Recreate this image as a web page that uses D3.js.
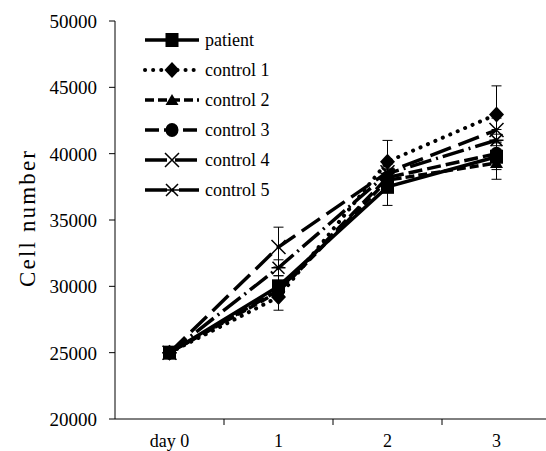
<!DOCTYPE html>
<html>
<head>
<meta charset="utf-8">
<script src="https://cdn.jsdelivr.net/npm/d3@7"></script>
<style>
  body { margin: 0; background: #fff; }
</style>
</head>
<body>
<div id="chart"></div>
<script>
// chart data
const days = ["day 0", "1", "2", "3"];
const seriesNames = ["patient", "control 1", "control 2", "control 3", "control 4", "control 5"];
const patient  = [25000, 30000, 37500, 39770];
const control1 = [25000, 29200, 39400, 42960];
const control2 = [25000, 29600, 38000, 39300];
const control3 = [25000, 29700, 38200, 40000];
const control4 = [25000, 32960, 38600, 41780];
const control5 = [25000, 31400, 38500, 41020];
const errPatient  = [0, 800, 1400, 1700];
const errControl1 = [0, 1000, 1600, 2150];
const errControl2 = [0, 500, 500, 500];
const errControl3 = [0, 600, 600, 600];
const errControl4 = [0, 1500, 800, 900];
const errControl5 = [0, 600, 700, 800];
const yTicks = [20000, 25000, 30000, 35000, 40000, 45000, 50000];

const values = [patient, control1, control2, control3, control4, control5];
const errors = [errPatient, errControl1, errControl2, errControl3, errControl4, errControl5];
const dashes = [null, "0.1,8", "9,4", "14,5", "22,8", "22,5,2,5"];
const shapes = ["square", "diamond", "triangle", "circle", "x", "asterisk"];

const W = 546, H = 451;
const svg = d3.select("#chart").append("svg")
    .attr("width", W)
    .attr("height", H)
    .attr("font-family", "'Liberation Serif', 'Times New Roman', 'DejaVu Serif', serif");

const x = d3.scaleBand().domain(days).range([115, 551]);
const y = d3.scaleLinear().domain([20000, 50000]).range([419, 21]);

// axes
svg.append("line")
    .attr("x1", 115).attr("x2", W)
    .attr("y1", y(20000)).attr("y2", y(20000))
    .attr("stroke", "#000");
svg.append("line")
    .attr("x1", 115).attr("x2", 115)
    .attr("y1", y(20000)).attr("y2", y(50000))
    .attr("stroke", "#000");

svg.selectAll(".ytick")
    .data(yTicks)
    .enter().append("line")
    .attr("x1", 109).attr("x2", 115)
    .attr("y1", d => y(d)).attr("y2", d => y(d))
    .attr("stroke", "#000");
svg.selectAll(".ylab")
    .data(yTicks)
    .enter().append("text")
    .attr("x", 97)
    .attr("y", d => y(d) + 7)
    .attr("text-anchor", "end")
    .attr("font-size", 19)
    .text(d => d);

svg.selectAll(".xtick")
    .data(days)
    .enter().append("line")
    .attr("x1", d => x(d) + x.bandwidth()).attr("x2", d => x(d) + x.bandwidth())
    .attr("y1", y(20000)).attr("y2", y(20000) + 6)
    .attr("stroke", "#000");
svg.selectAll(".xlab")
    .data(days)
    .enter().append("text")
    .attr("x", d => x(d) + x.bandwidth() / 2)
    .attr("y", 447)
    .attr("text-anchor", "middle")
    .attr("font-size", 18)
    .text(d => d);

svg.append("text")
    .attr("transform", "translate(35,219) rotate(-90)")
    .attr("text-anchor", "middle")
    .attr("font-size", 23)
    .attr("textLength", 136)
    .attr("lengthAdjust", "spacing")
    .text("Cell number");

function drawMarker(g, shape, cx, cy) {
    if (shape === "square") {
        g.append("rect").attr("x", cx - 6.5).attr("y", cy - 7)
            .attr("width", 13).attr("height", 14).attr("fill", "#000");
    } else if (shape === "diamond") {
        g.append("path").attr("d", `M${cx},${cy - 8}L${cx + 7.5},${cy}L${cx},${cy + 8}L${cx - 7.5},${cy}Z`)
            .attr("fill", "#000");
    } else if (shape === "triangle") {
        g.append("path").attr("d", `M${cx},${cy - 6}L${cx + 6.5},${cy + 5}L${cx - 6.5},${cy + 5}Z`)
            .attr("fill", "#000");
    } else if (shape === "circle") {
        g.append("ellipse").attr("cx", cx).attr("cy", cy).attr("rx", 6.5).attr("ry", 7)
            .attr("fill", "#000");
    } else if (shape === "x") {
        g.append("path").attr("d", `M${cx - 7},${cy - 7}L${cx + 7},${cy + 7}M${cx + 7},${cy - 7}L${cx - 7},${cy + 7}`)
            .attr("stroke", "#000").attr("stroke-width", 1.5);
    } else {
        g.append("path").attr("d", `M${cx - 6},${cy - 6}L${cx + 6},${cy + 6}M${cx + 6},${cy - 6}L${cx - 6},${cy + 6}M${cx - 7},${cy}L${cx + 7},${cy}`)
            .attr("stroke", "#000").attr("stroke-width", 1.5);
    }
}

const line = d3.line()
    .x((d, i) => x(days[i]) + x.bandwidth() / 2)
    .y(d => y(d));

// draw controls first, patient on top
const order = [5, 4, 3, 2, 1, 0];
order.forEach(s => {
    const g = svg.append("g");
    // error bars
    values[s].forEach((v, i) => {
        if (!errors[s][i]) return;
        const cx = x(days[i]) + x.bandwidth() / 2;
        const y1 = y(v + errors[s][i]), y2 = y(v - errors[s][i]);
        g.append("line").attr("x1", cx).attr("x2", cx).attr("y1", y1).attr("y2", y2)
            .attr("stroke", "#000").attr("stroke-width", 1);
        [y1, y2].forEach(yy => {
            g.append("line").attr("x1", cx - 5).attr("x2", cx + 5).attr("y1", yy).attr("y2", yy)
                .attr("stroke", "#000").attr("stroke-width", 1);
        });
    });
    g.append("path")
        .datum(values[s])
        .attr("d", line)
        .attr("fill", "none")
        .attr("stroke", "#000")
        .attr("stroke-width", s === 1 ? 4 : 3.5)
        .attr("stroke-linecap", s === 1 ? "round" : "butt")
        .attr("stroke-dasharray", dashes[s]);
    values[s].forEach((v, i) => {
        drawMarker(g, shapes[s], x(days[i]) + x.bandwidth() / 2, y(v));
    });
});

// legend
const legend = svg.append("g");
seriesNames.forEach((name, s) => {
    const ly = 40 + s * 30;
    legend.append("line")
        .attr("x1", 145).attr("x2", 199).attr("y1", ly).attr("y2", ly)
        .attr("stroke", "#000").attr("stroke-width", s === 1 ? 4 : 3.5)
        .attr("stroke-linecap", s === 1 ? "round" : "butt")
        .attr("stroke-dasharray", dashes[s]);
    drawMarker(legend, shapes[s], 172, ly);
    legend.append("text")
        .attr("x", 205).attr("y", ly + 6)
        .attr("font-size", 18)
        .text(name);
});
</script>
</body>
</html>
